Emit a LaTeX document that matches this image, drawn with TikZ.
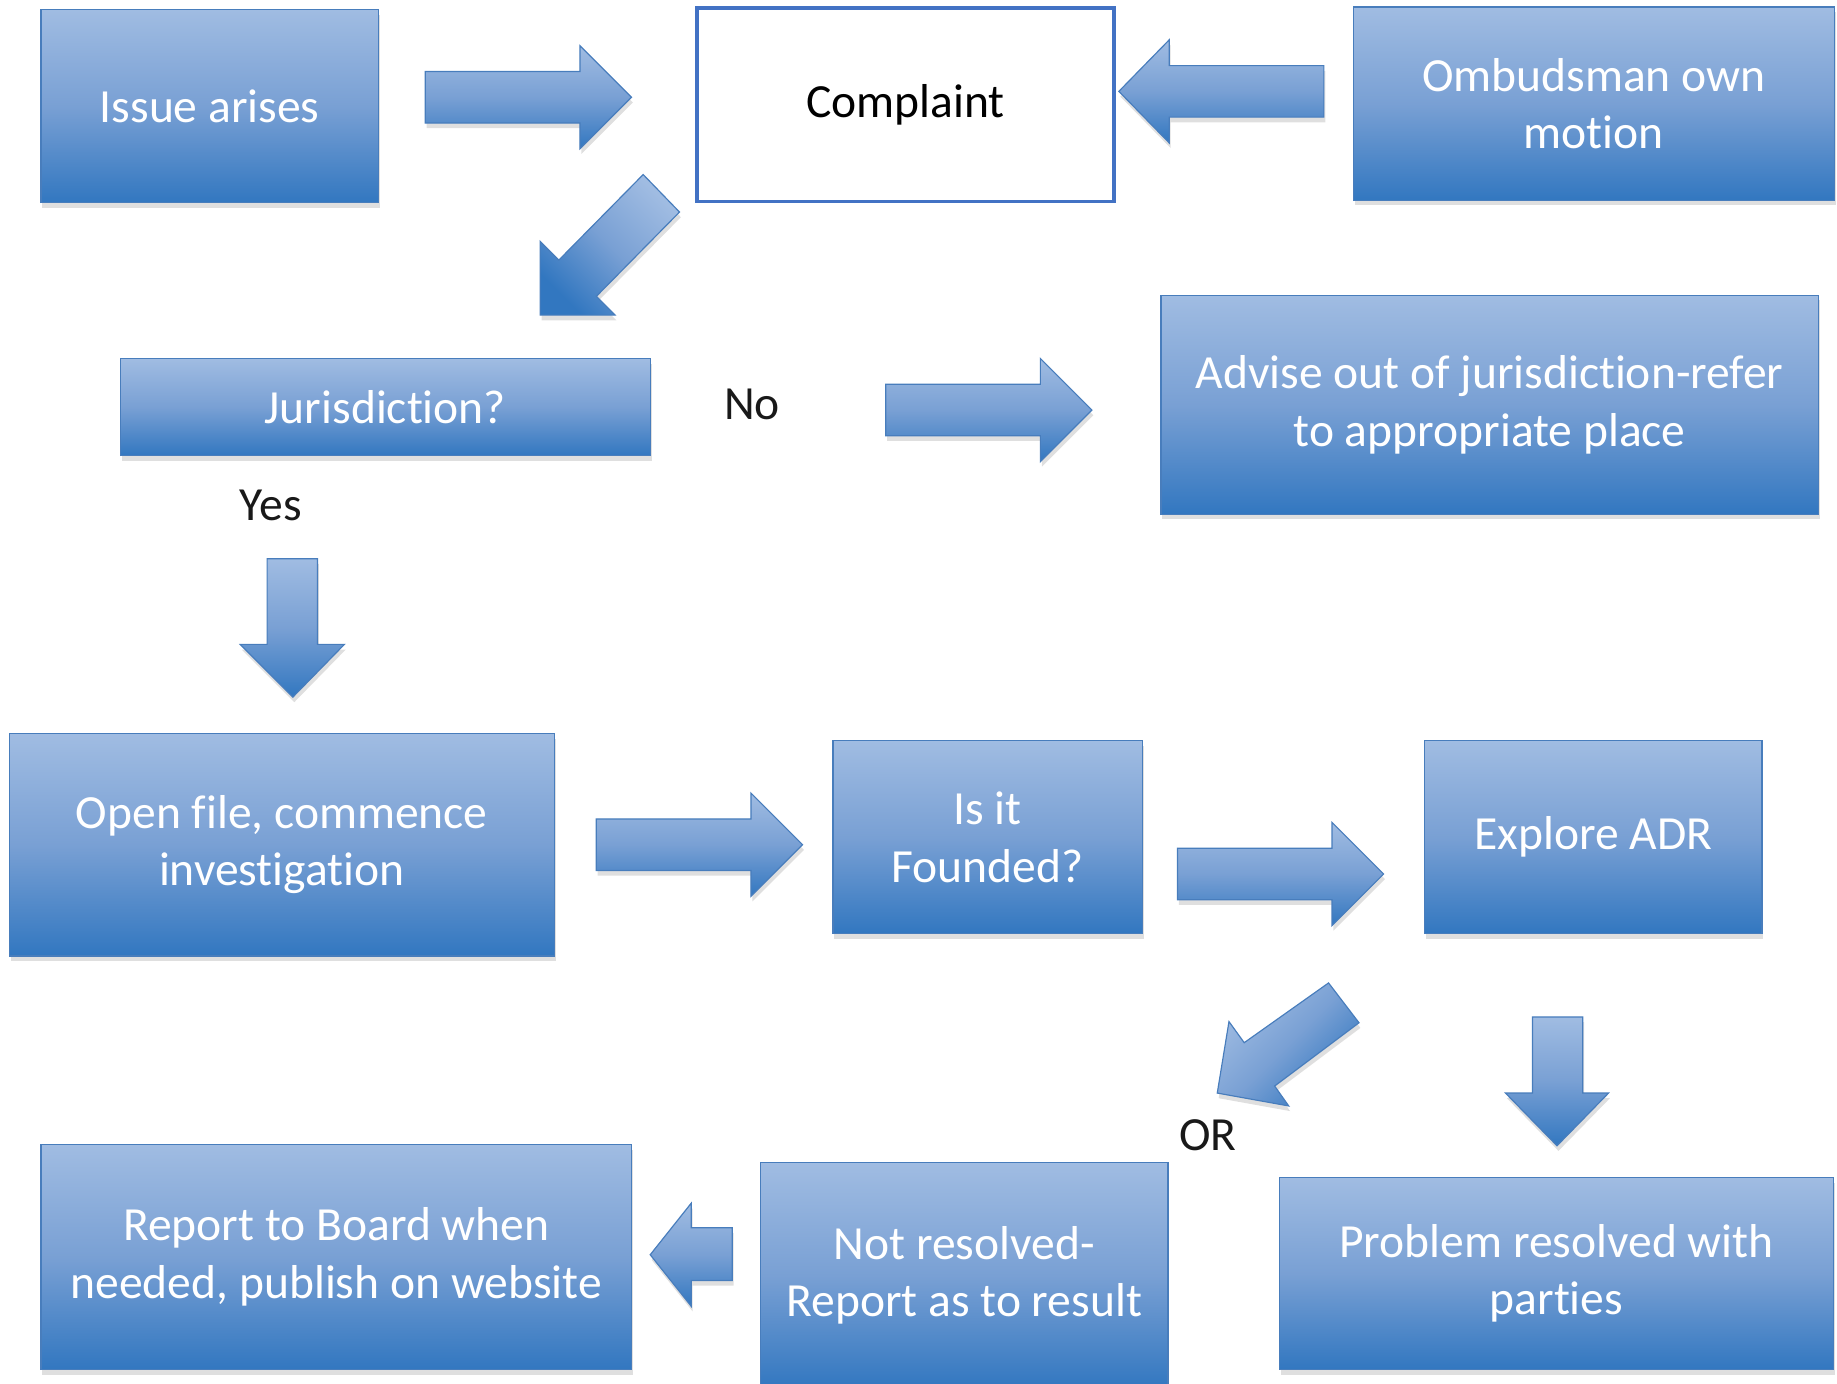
\documentclass[tikz,border=0pt]{standalone}
\usepackage{fontspec}
\setmainfont{Carlito}[Ligatures=NoCommon, Contextuals=NoAlternate]
\usetikzlibrary{shadows}
\definecolor{boxtop}{RGB}{160,188,226}
\definecolor{boxmid}{RGB}{121,160,212}
\definecolor{boxbot}{RGB}{50,119,192}
\definecolor{boxline}{RGB}{72,125,188}
\definecolor{startline}{RGB}{66,114,196}
\newcommand{\flowfont}{\fontsize{20.3}{24.6}\selectfont}
\tikzset{
  shade blue/.style = {top color=boxtop, bottom color=boxbot, middle color=boxmid},
  soft shadow/.style = {drop shadow={shadow xshift=0.6pt, shadow yshift=-2.2pt, opacity=0.25}},
  procbox/.style = {shade blue, draw=boxline, line width=0.5pt, inner sep=0pt,
    text=white, align=center, font=\flowfont, soft shadow},
  startbox/.style = {draw=startline, line width=1.6pt, fill=white, inner sep=0pt,
    align=center, font=\flowfont},
  blockarrow/.style = {shade blue, draw=boxline, line width=0.5pt, line join=miter, soft shadow},
  lbl/.style = {font=\flowfont, text=black!90}
}

\begin{document}
\begin{tikzpicture}[x=0.5pt,y=-0.5pt]
  \useasboundingbox (0,0) rectangle (1568,1181);
  % boxes
  \node[procbox, minimum width=144pt, minimum height=82.5pt] (issue) at (179,90.5) {Issue arises};
  \node[startbox, minimum width=178pt, minimum height=82.5pt] (complaint) at (773,89.5) {Complaint};
  \node[procbox, minimum width=205.5pt, minimum height=82.5pt] (ownmotion) at (1360.5,88.5) {Ombudsman own\\motion};
  \node[procbox, minimum width=226pt, minimum height=41.5pt] (juris) at (329,347.5) {Jurisdiction?};
  \node[procbox, minimum width=280.5pt, minimum height=93.5pt] (advise) at (1271.5,345.5) {Advise out of jurisdiction-refer\\to appropriate place};
  \node[procbox, minimum width=232.5pt, minimum height=95pt] (openfile) at (240.5,721) {Open file, commence\\investigation};
  \node[procbox, minimum width=132pt, minimum height=82.5pt] (founded) at (843,714.5) {Is it\\Founded?};
  \node[procbox, minimum width=144pt, minimum height=82.5pt] (adr) at (1360,714.5) {Explore ADR};
  \node[procbox, minimum width=252pt, minimum height=96pt] (board) at (287,1073) {Report to Board when\\needed, publish on website};
  \node[procbox, minimum width=174pt, minimum height=96.5pt] (notres) at (823,1088.5) {Not resolved-\\Report as to result};
  \node[procbox, minimum width=236.5pt, minimum height=82pt] (resolved) at (1328.5,1087) {Problem resolved with\\parties};
  % labels
  \node[lbl] (no) at (642,345) {No};
  \node[lbl] (yes) at (231,431) {Yes};
  \node[lbl] (or) at (1031,969) {OR};
  % block arrows pointing right
  \foreach \X/\Y in {363/83, 756/350, 509/721, 1005/746} {
    \draw[blockarrow] (\X,\Y-22) -- ++(132,0) -- ++(0,-22) -- ++(44,44)
      -- ++(-44,44) -- ++(0,-22) -- ++(-132,0) -- cycle;
  }
  % pointing left
  \draw[blockarrow] (1130,56) -- (998,56) -- (998,34) -- (955,78) -- (998,122)
    -- (998,100) -- (1130,100) -- cycle;
  \draw[blockarrow] (625,1048) -- (590,1048) -- (590,1027) -- (555,1071) -- (590,1115)
    -- (590,1093) -- (625,1093) -- cycle;
  % pointing down
  \draw[blockarrow] (228,477) -- (271,477) -- (271,550) -- (294,550) -- (250,595)
    -- (205,550) -- (228,550) -- cycle;
  \draw[blockarrow] (1308,868) -- (1351,868) -- (1351,933) -- (1373,933) -- (1329,978)
    -- (1285,933) -- (1308,933) -- cycle;
  % diagonal
  \draw[blockarrow, shading angle=-45] (549,149) -- (580,181) -- (509,253) -- (525,269)
    -- (461,269) -- (461,206) -- (477,222) -- cycle;
  \draw[blockarrow, shading angle=45] (1134,839) -- (1160,873) -- (1088,927) -- (1100,944)
    -- (1039,933) -- (1049,872) -- (1062,890) -- cycle;
\end{tikzpicture}
\end{document}
